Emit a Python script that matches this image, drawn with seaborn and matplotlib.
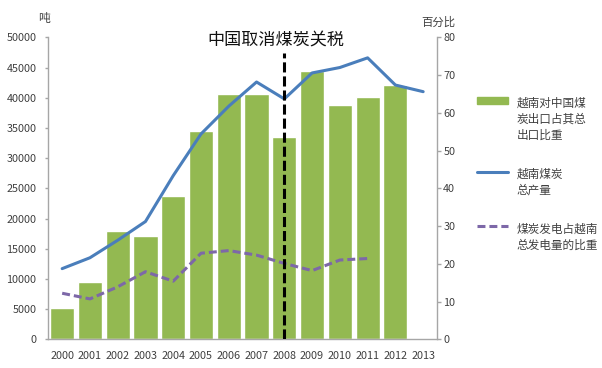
#图表：越南煤炭出口、产量与煤电比重
import numpy as np
import pandas as pd
import seaborn as sns
sns.set_style('white')
import matplotlib.pyplot as plt
from matplotlib.patches import Patch
from matplotlib.lines import Line2D

plt.rcParams['font.family'] = ['Noto Sans CJK SC', 'DejaVu Sans']

# data
years = ['2000', '2001', '2002', '2003', '2004', '2005', '2006',
         '2007', '2008', '2009', '2010', '2011', '2012', '2013']
# 越南对中国煤炭出口占其总出口比重 (%)
export_share = [8.2, 15.3, 28.7, 27.3, 38.0, 55.2, 65.0,
                65.0, 53.7, 71.0, 62.2, 64.1, 67.4, np.nan]
# 越南煤炭总产量 (吨, left axis)
production = [11700, 13500, 16400, 19500, 27100, 34000, 38600,
              42600, 39800, 44100, 45000, 46600, 42100, 41000]
# 煤炭发电占越南总发电量的比重 (%)
coal_power = [12.2, 10.7, 13.9, 17.9, 15.4, 22.8, 23.5,
              22.3, 20.1, 18.2, 21.0, 21.4, np.nan, np.nan]
tariff_year = '2008'
tariff_line_top = 47350

green = '#93b951'
blue = '#4a7ebb'
purple = '#7d68a8'
gray = '#a6a6a6'
txt = '#404040'

df = pd.DataFrame({'year': years, 'share': export_share})
idx = np.arange(len(years))

fig = plt.figure(figsize=(6.02, 3.68), dpi=100)
ax = fig.add_axes([0.0802, 0.078, 0.726 - 0.0802, 0.8986 - 0.078])

# bars + dashed line on the percent axis
sns.barplot(data=df, x='year', y='share', order=years, color=green,
            saturation=1, width=0.87, errorbar=None, ax=ax)
sns.lineplot(x=idx, y=coal_power, color=purple, lw=2.2,
             linestyle=(0, (2.6, 1.3)), ax=ax)

# production line on the tonnage axis
ax_ton = ax.twinx()
sns.lineplot(x=idx, y=production, color=blue, lw=2.2, ax=ax_ton)
ax_ton.vlines(years.index(tariff_year), 0, tariff_line_top, color='black',
              lw=2.2, linestyles=[(0, (3.3, 1.3))])

# swap sides: percent right, tons left
ax.yaxis.tick_right()
ax_ton.yaxis.tick_left()
ax.set_ylim(0, 80)
ax.set_yticks(np.arange(0, 81, 10))
ax_ton.set_ylim(0, 50000)
ax_ton.set_yticks(np.arange(0, 50001, 5000))
ax.set_xlim(-0.5, len(years) - 0.5)

ax.set_xticks(np.arange(len(years) + 1) - 0.5)
ax.set_xticklabels([])
ax.set_xticks(idx, minor=True)
ax.set_xticklabels(years, minor=True)
ax.tick_params(axis='x', which='major', length=4, width=1, color=gray, direction='out')
ax.tick_params(axis='x', which='minor', length=0, pad=8.5, labelsize=7.8, labelcolor=txt)
ax.tick_params(axis='y', length=3, width=1, color=gray, direction='out', pad=1.5,
               labelsize=7.8, labelcolor=txt, right=True, left=False)
ax_ton.tick_params(axis='y', length=2, width=1, color=gray, direction='out', pad=6.5,
                   labelsize=7.8, labelcolor=txt, left=True, right=False)

for a in (ax, ax_ton):
    a.set_xlabel('')
    a.set_ylabel('')
    for s in a.spines.values():
        s.set_color(gray)
        s.set_linewidth(1)
ax.spines['top'].set_visible(False)
ax.spines['left'].set_visible(False)
ax_ton.spines['top'].set_visible(False)
ax_ton.spines['right'].set_visible(False)
ax_ton.spines['bottom'].set_visible(False)

fig.text(0.459, 0.891, '中国取消煤炭关税', ha='center', va='center', fontsize=12.3, color='#111111')
fig.text(0.073, 0.951, '吨', ha='center', va='center', fontsize=8.5, color=txt)
fig.text(0.728, 0.94, '百分比', ha='center', va='center', fontsize=8.2, color=txt)

handles = [Patch(color=green),
           Line2D([], [], color=blue, lw=2.2),
           Line2D([], [], color=purple, lw=2.2, linestyle=(0, (2.6, 1.3)))]
labels = ['越南对中国煤\n炭出口占其总\n出口比重', '越南煤炭\n总产量', '煤炭发电占越南\n总发电量的比重']
leg = fig.legend(handles, labels, loc='upper left', bbox_to_anchor=(0.792, 0.736),
                 frameon=False, fontsize=8.4, handlelength=2.65, handleheight=0.5,
                 handletextpad=0.75, labelspacing=2.2, borderpad=0, borderaxespad=0)
for t in leg.get_texts():
    t.set_linespacing(1.3)
    t.set_color(txt)
for col in leg._legend_handle_box.get_children():
    for item in col.get_children():
        item.align = 'top'

fig.savefig('out.png', dpi=100)
